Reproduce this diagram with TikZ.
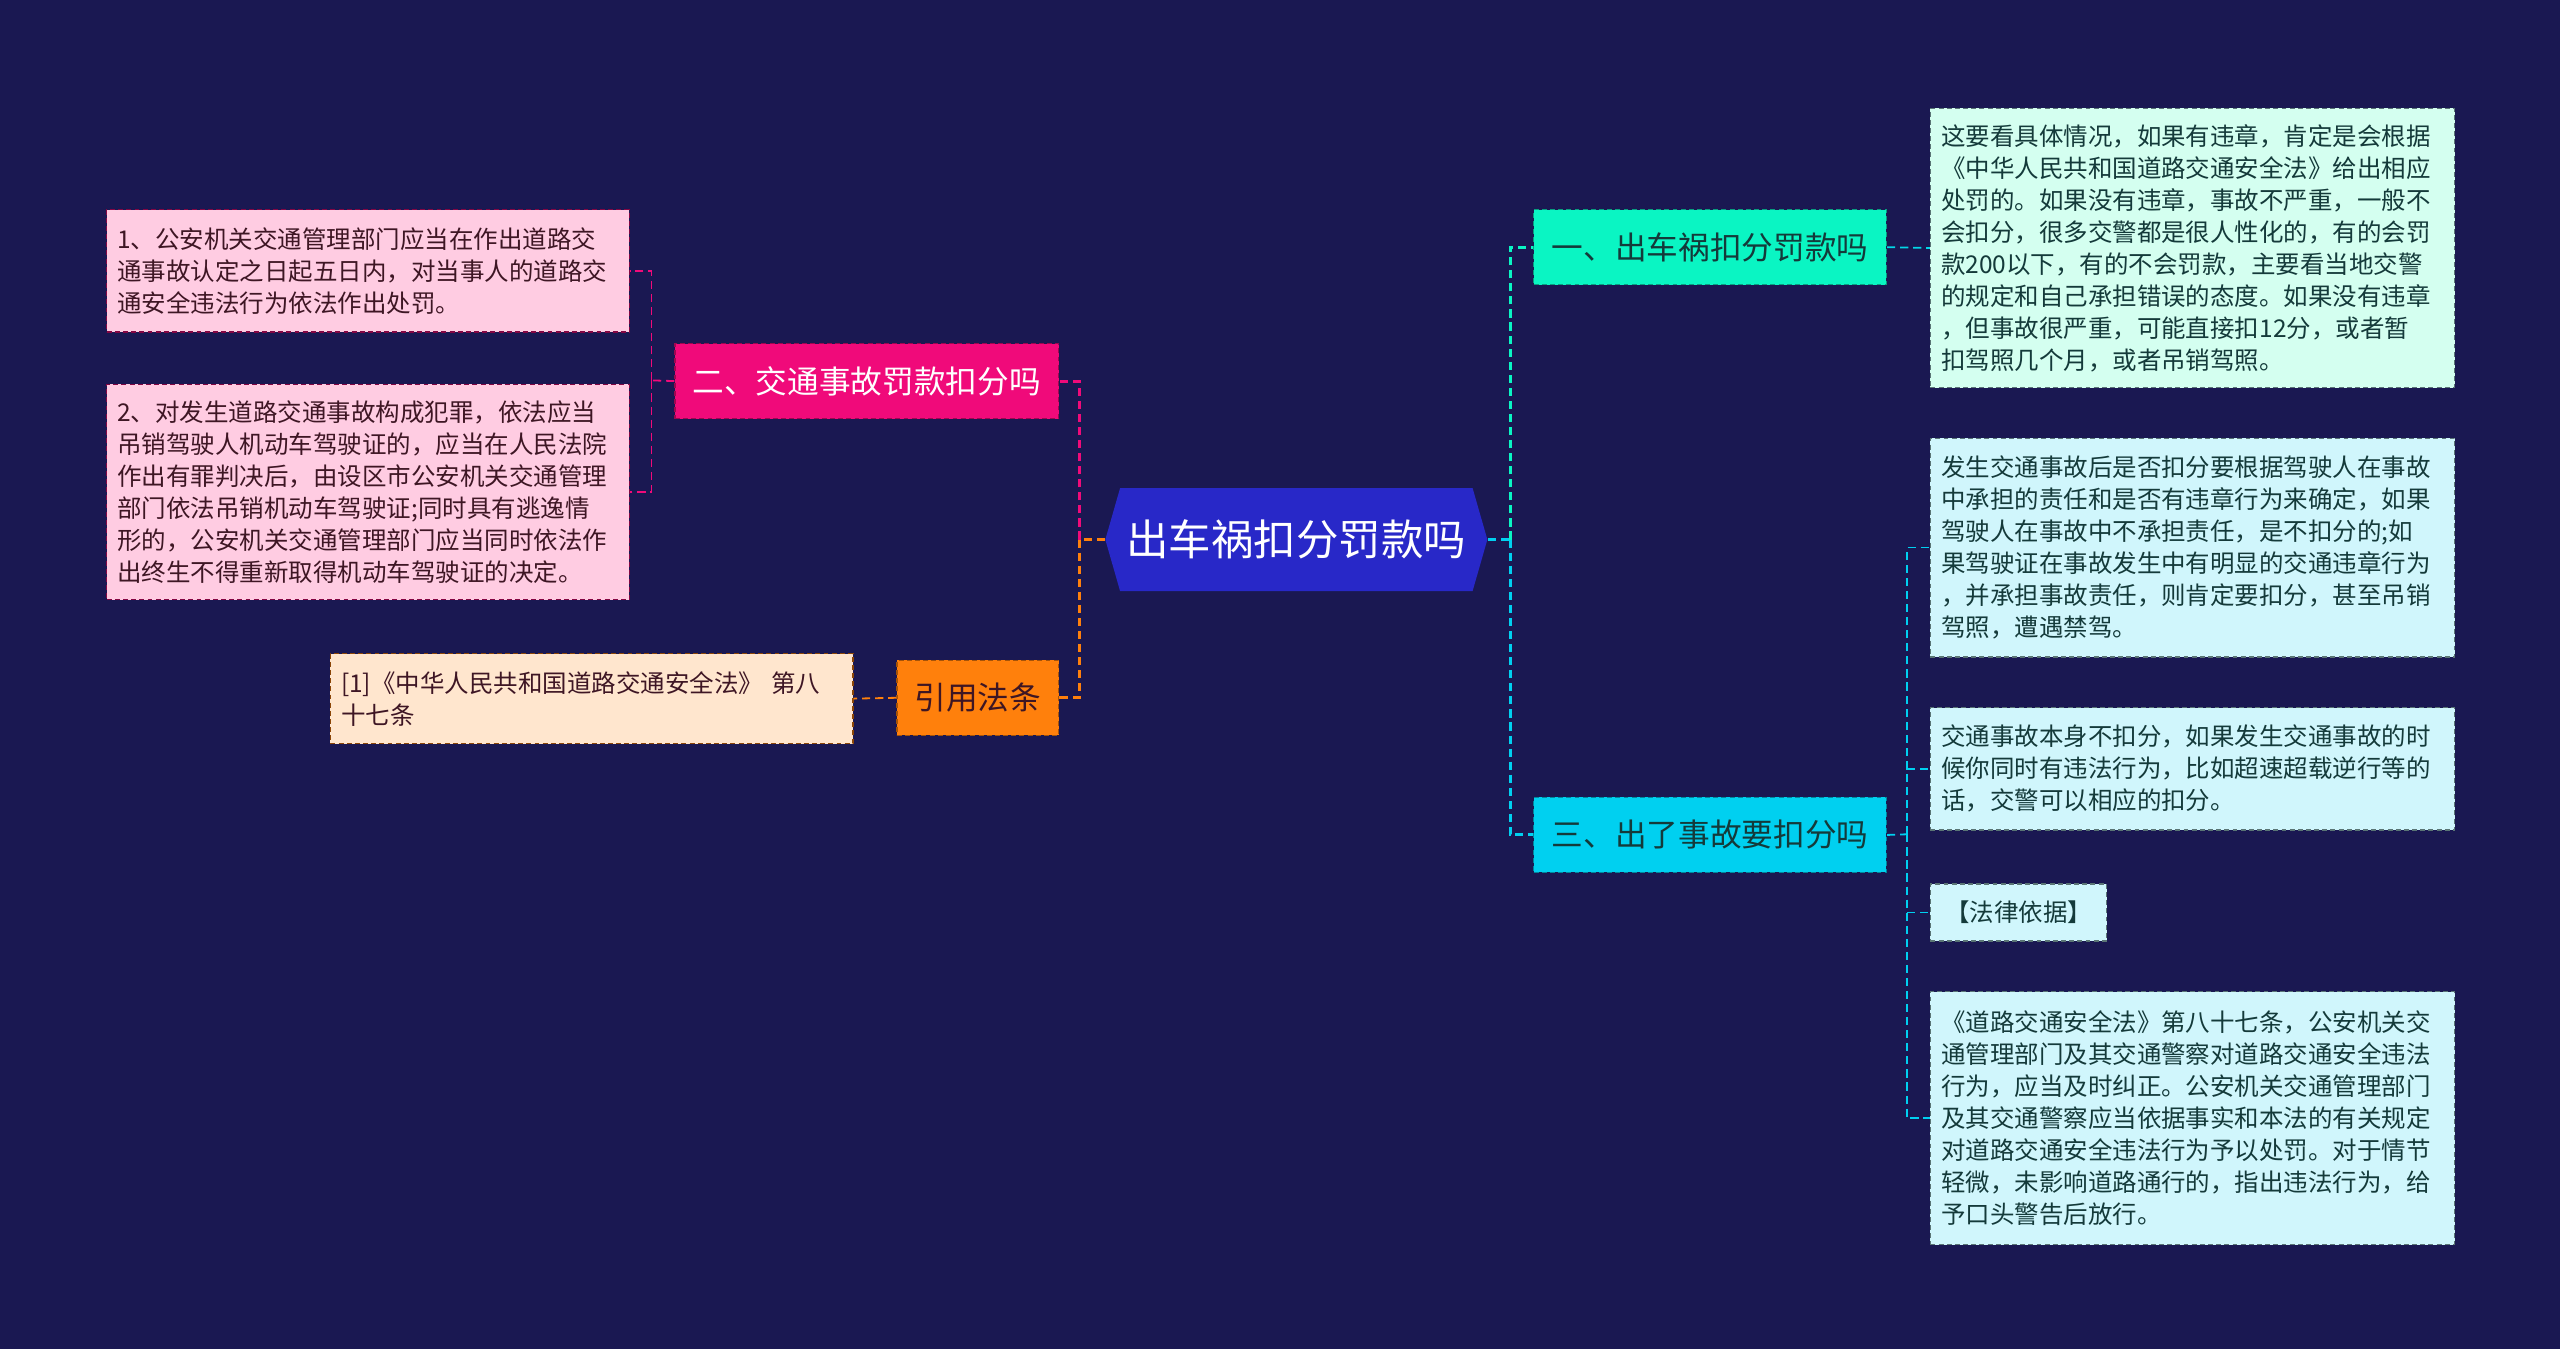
\documentclass[tikz,border=0pt]{standalone}
\usepackage{fontspec}
\setmainfont{Noto Sans CJK SC}
\usetikzlibrary{shapes.symbols}

\definecolor{bgnavy}{RGB}{26,24,82}
\definecolor{rootblue}{RGB}{40,40,200}
\definecolor{mintbr}{RGB}{10,245,195}
\definecolor{cyanbr}{RGB}{0,208,240}
\definecolor{rosebr}{RGB}{240,10,122}
\definecolor{orangebr}{RGB}{255,128,12}
\definecolor{mintleaf}{RGB}{212,255,240}
\definecolor{cyanleaf}{RGB}{208,246,252}
\definecolor{roseleaf}{RGB}{255,204,226}
\definecolor{orangeleaf}{RGB}{255,230,206}
\definecolor{inkteal}{RGB}{20,58,58}
\definecolor{inkrose}{RGB}{62,22,36}

\tikzset{
  boxdash/.style={dash pattern=on 3pt off 2pt, line width=0.8pt},
  rootbox/.style={signal, signal to=west and east, signal pointer angle=148, fill=rootblue, text=white, inner sep=0pt, minimum width=234, minimum height=63, font=\fontsize{26}{30}\selectfont},
  branchbox/.style={rectangle, boxdash, anchor=north west, inner sep=0pt, font=\fontsize{19.4}{24}\selectfont},
  leafbox/.style={rectangle, boxdash, anchor=north west, inner xsep=6.5pt, inner ysep=0pt, align=left, font=\fontsize{15}{19.6}\selectfont},
  linkline/.style={dash pattern=on 5pt off 3pt, line width=1.8pt},
  leafline/.style={dash pattern=on 5pt off 3pt, line width=1.1pt}
}

\begin{document}
\begin{tikzpicture}[x=1pt,y=1pt,yscale=-1,xscale=1]
\useasboundingbox (0,0) rectangle (1568,826);
\fill[bgnavy] (0,0) rectangle (1568,826);

%Shape: Hexagon [root]
\node[rootbox] (root) at (794,330.5) {出车祸扣分罚款吗};

%Shape: Rectangle [branches]
\node[branchbox, fill=mintbr, draw=mintbr!65!black, text=inkteal, minimum width=216, minimum height=46] (b1) at (939,128) {一、出车祸扣分罚款吗};
\node[branchbox, fill=cyanbr, draw=cyanbr!65!black, text=inkteal, minimum width=216, minimum height=46] (b3) at (939,488) {三、出了事故要扣分吗};
\node[branchbox, fill=rosebr, draw=rosebr!65!black, text=white, minimum width=235, minimum height=46] (b2) at (413,210) {二、交通事故罚款扣分吗};
\node[branchbox, fill=orangebr, draw=orangebr!65!black, text=inkrose, minimum width=99, minimum height=46] (b4) at (549,404) {引用法条};

%Shape: Rectangle [right leaves]
\node[leafbox, fill=mintleaf, draw=inkteal!70, text=inkteal, text width=308, minimum width=321, minimum height=171] (r1) at (1182,66) {这要看具体情况，如果有违章，肯定是会根据\\《中华人民共和国道路交通安全法》给出相应\\处罚的。如果没有违章，事故不严重，一般不\\会扣分，很多交警都是很人性化的，有的会罚\\款200以下，有的不会罚款，主要看当地交警\\的规定和自己承担错误的态度。如果没有违章\\，但事故很严重，可能直接扣12分，或者暂\\扣驾照几个月，或者吊销驾照。};
\node[leafbox, fill=cyanleaf, draw=inkteal!70, text=inkteal, text width=308, minimum width=321, minimum height=134] (r2) at (1182,268) {发生交通事故后是否扣分要根据驾驶人在事故\\中承担的责任和是否有违章行为来确定，如果\\驾驶人在事故中不承担责任，是不扣分的;如\\果驾驶证在事故发生中有明显的交通违章行为\\，并承担事故责任，则肯定要扣分，甚至吊销\\驾照，遭遇禁驾。};
\node[leafbox, fill=cyanleaf, draw=inkteal!70, text=inkteal, text width=308, minimum width=321, minimum height=75] (r3) at (1182,433) {交通事故本身不扣分，如果发生交通事故的时\\候你同时有违法行为，比如超速超载逆行等的\\话，交警可以相应的扣分。};
\node[leafbox, fill=cyanleaf, draw=inkteal!70, text=inkteal, align=center, minimum width=108, minimum height=35] (r4) at (1182,541) {【法律依据】};
\node[leafbox, fill=cyanleaf, draw=inkteal!70, text=inkteal, text width=308, minimum width=321, minimum height=155] (r5) at (1182,607) {《道路交通安全法》第八十七条，公安机关交\\通管理部门及其交通警察对道路交通安全违法\\行为，应当及时纠正。公安机关交通管理部门\\及其交通警察应当依据事实和本法的有关规定\\对道路交通安全违法行为予以处罚。对于情节\\轻微，未影响道路通行的，指出违法行为，给\\予口头警告后放行。};

%Shape: Rectangle [left leaves]
\node[leafbox, fill=roseleaf, draw=rosebr!55!black, text=inkrose, text width=307, minimum width=320, minimum height=75] (l1) at (65,128) {1、公安机关交通管理部门应当在作出道路交\\通事故认定之日起五日内，对当事人的道路交\\通安全违法行为依法作出处罚。};
\node[leafbox, fill=roseleaf, draw=rosebr!55!black, text=inkrose, text width=307, minimum width=320, minimum height=132] (l2) at (65,235) {2、对发生道路交通事故构成犯罪，依法应当\\吊销驾驶人机动车驾驶证的，应当在人民法院\\作出有罪判决后，由设区市公安机关交通管理\\部门依法吊销机动车驾驶证;同时具有逃逸情\\形的，公安机关交通管理部门应当同时依法作\\出终生不得重新取得机动车驾驶证的决定。};
\node[leafbox, fill=orangeleaf, draw=orangebr!55!black, text=inkrose, text width=307, minimum width=320, minimum height=55] (cite) at (202,400) {[1]《中华人民共和国道路交通安全法》 第八\\十七条};

%Straight Lines [root to branches]
\coordinate (lj) at (661,330.5);
\coordinate (rj) at (925,330.5);
\draw[linkline, orangebr] (root.west) -- (lj);
\draw[linkline, rosebr] (lj) |- (b2.east);
\draw[linkline, orangebr] (lj) |- (b4.east);
\draw[linkline, cyanbr] (root.east) -- (rj);
\draw[linkline, mintbr] (rj) |- (b1.west);
\draw[linkline, cyanbr] (rj) |- (b3.west);

%Straight Lines [branches to leaves]
\coordinate (lk) at (399,233);
\coordinate (tj) at (1168,511);
\draw[leafline, rosebr] (b2.west) -- (lk);
\draw[leafline, rosebr] (lk) |- (l1.east);
\draw[leafline, rosebr] (lk) |- (l2.east);
\draw[leafline, orangebr] (b4.west) -- (cite.east);
\draw[leafline, cyanbr!80!mintbr] (b1.east) -- (r1.west);
\draw[leafline, cyanbr] (b3.east) -- (tj);
\foreach \leaf in {r2,r3,r4,r5}
  \draw[leafline, cyanbr] (tj) |- (\leaf.west);

\end{tikzpicture}
\end{document}
